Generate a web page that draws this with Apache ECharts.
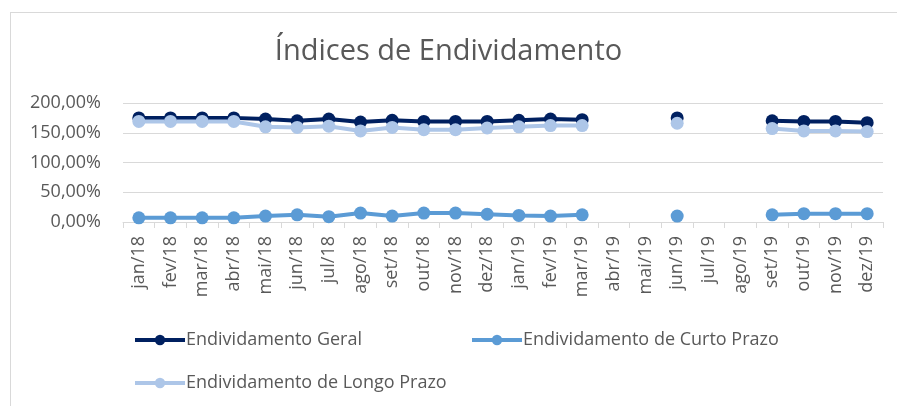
<!DOCTYPE html>
<html>
<head>
<meta charset="utf-8">
<script src="https://cdn.jsdelivr.net/npm/echarts@6/dist/echarts.min.js"></script>
<style>
  html, body { margin: 0; padding: 0; background: #fff; }
  #frame {
    position: absolute; left: 10px; top: 12px; width: 900px; height: 410px;
    border: 1px solid #d9d9d9; box-sizing: border-box;
  }
  #chart { position: absolute; left: 0; top: 0; width: 897px; height: 406px; }
</style>
</head>
<body>
<div id="frame"></div>
<div id="chart"></div>
<script>
  // meses jan/18 .. dez/19
  const meses = ['jan/18', 'fev/18', 'mar/18', 'abr/18', 'mai/18', 'jun/18', 'jul/18', 'ago/18',
    'set/18', 'out/18', 'nov/18', 'dez/18', 'jan/19', 'fev/19', 'mar/19', 'abr/19', 'mai/19',
    'jun/19', 'jul/19', 'ago/19', 'set/19', 'out/19', 'nov/19', 'dez/19'];

  // valores em %, null = sem dado
  const geral = [175, 175, 175, 175, 173, 170, 173, 168, 171, 169, 169, 169, 171, 173, 172,
    null, null, 175, null, null, 170, 169, 169, 167];
  const curto = [7, 7, 7, 7, 10, 12, 9, 15, 10, 15, 15, 13, 11, 10, 12,
    null, null, 10, null, null, 12, 14, 14, 14];
  const longo = [169, 169, 169, 169, 160, 159, 161, 153, 159, 155, 155, 158, 160, 162, 162,
    null, null, 166, null, null, 157, 153, 153, 152];

  const yTicks = [0, 50, 100, 150, 200];

  const fonte = '"Open Sans", "Liberation Sans", sans-serif';
  const cinza = '#595959';

  let myChart = echarts.init(document.getElementById('chart'));

  function linha(nome, dados, cor) {
    return {
      name: nome,
      type: 'line',
      data: dados,
      connectNulls: false,
      symbol: 'circle',
      symbolSize: 13,
      lineStyle: { width: 4, color: cor },
      itemStyle: { color: cor },
      animation: false
    };
  }

  function legenda(nome, left, top) {
    return {
      data: [nome],
      left: left,
      top: top,
      itemWidth: 50,
      itemHeight: 13,
      itemGap: 0,
      lineStyle: { width: 4 },
      textStyle: { color: cinza, fontSize: 18, fontFamily: fonte, padding: [0, 0, 0, -4] },
      selectedMode: false
    };
  }

  myChart.setOption({
    title: {
      text: 'Índices de Endividamento',
      left: 'center',
      top: 32,
      textStyle: { color: cinza, fontSize: 29, fontWeight: 'normal', fontFamily: fonte }
    },
    legend: [
      legenda('Endividamento Geral', 128, 326),
      legenda('Endividamento de Curto Prazo', 465, 326),
      legenda('Endividamento de Longo Prazo', 128, 369)
    ],
    grid: { left: 123, right: 14, top: 103, bottom: 184, containLabel: false },
    xAxis: {
      type: 'category',
      data: meses,
      boundaryGap: true,
      axisLine: { lineStyle: { color: '#d9d9d9', width: 1 } },
      axisTick: { show: true, length: 6, lineStyle: { color: '#d9d9d9' } },
      axisLabel: {
        rotate: 90, interval: 0, color: cinza, fontSize: 18, fontFamily: fonte, margin: 14
      }
    },
    yAxis: {
      type: 'value',
      min: yTicks[0],
      max: yTicks[yTicks.length - 1],
      interval: 50,
      axisLine: { show: false },
      axisTick: { show: false },
      splitLine: { lineStyle: { color: '#d9d9d9', width: 1 } },
      axisLabel: {
        color: cinza, fontSize: 18, fontFamily: fonte, margin: 22,
        formatter: function (v) { return v.toFixed(2).replace('.', ',') + '%'; }
      }
    },
    series: [
      linha('Endividamento Geral', geral, '#002060'),
      linha('Endividamento de Curto Prazo', curto, '#5b9bd5'),
      linha('Endividamento de Longo Prazo', longo, '#adc6e8')
    ]
  });
</script>
</body>
</html>
